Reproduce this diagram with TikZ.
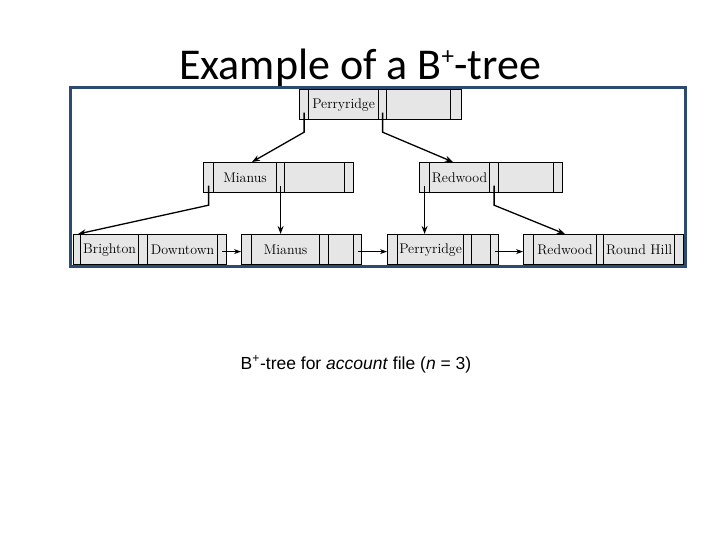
\documentclass[tikz,border=0pt]{standalone}
\usepackage{fontspec}
\newfontfamily\carlito{Carlito}
\newfontfamily\arialf{Liberation Sans}
\usetikzlibrary{arrows.meta}
\definecolor{cellgray}{HTML}{E6E6E6}
\definecolor{framecol}{HTML}{2D4B70}
\tikzset{
  cell/.style={draw=black, fill=cellgray, line width=1.2pt, minimum height=30pt,
    inner sep=0pt, anchor=north west, font=\fontsize{14}{15}\selectfont},
  ptr/.style={line width=1.3pt, -{Stealth[length=8pt,width=6pt]}},
  nxt/.style={line width=0.9pt, -{Stealth[length=7pt,width=5pt]}}
}
\begin{document}
\begin{tikzpicture}[x=1pt,y=-1pt]
\useasboundingbox (0,0) rectangle (720,540);
% title
\node[font=\carlito\fontsize{44}{48}\selectfont, anchor=base, inner sep=0pt] (title) at (360,80) {Example of a B\raisebox{0.75ex}{\fontsize{25}{25}\selectfont +}-tree};
% root
\node[cell, minimum width=9pt]  (rt1) at (299,89) {};
\node[cell, minimum width=70pt] (rt2) at (308,89) {Perryridge};
\node[cell, minimum width=8pt]  (rt3) at (378,89) {};
\node[cell, minimum width=64pt] (rt4) at (386,89) {};
\node[cell, minimum width=11pt] (rt5) at (450,89) {};
% internal Mianus
\node[cell, minimum width=10pt] (mi1) at (203,162) {};
\node[cell, minimum width=63pt] (mi2) at (213,162) {Mianus};
\node[cell, minimum width=8pt]  (mi3) at (276,162) {};
\node[cell, minimum width=60pt] (mi4) at (284,162) {};
\node[cell, minimum width=9pt]  (mi5) at (344,162) {};
% internal Redwood
\node[cell, minimum width=10pt] (rw1) at (419,162) {};
\node[cell, minimum width=60pt] (rw2) at (429,162) {Redwood};
\node[cell, minimum width=9pt]  (rw3) at (489,162) {};
\node[cell, minimum width=55pt] (rw4) at (498,162) {};
\node[cell, minimum width=9pt]  (rw5) at (553,162) {};
% leaf Brighton/Downtown
\node[cell, minimum width=7pt]  (bl1) at (73,234) {};
\node[cell, minimum width=58pt] (bl2) at (80,234) {Brighton};
\node[cell, minimum width=9pt]  (bl3) at (138,234) {};
\node[cell, minimum width=70pt] (bl4) at (147,234) {Downtown};
\node[cell, minimum width=9pt]  (bl5) at (217,234) {};
% leaf Mianus
\node[cell, minimum width=10pt] (ml1) at (241,234) {};
\node[cell, minimum width=68pt] (ml2) at (251,234) {Mianus};
\node[cell, minimum width=9pt]  (ml3) at (319,234) {};
\node[cell, minimum width=25pt] (ml4) at (328,234) {};
\node[cell, minimum width=8pt]  (ml5) at (353,234) {};
% leaf Perryridge
\node[cell, minimum width=10pt] (pl1) at (387,234) {};
\node[cell, minimum width=66pt] (pl2) at (397,234) {Perryridge};
\node[cell, minimum width=8pt]  (pl3) at (463,234) {};
\node[cell, minimum width=19pt] (pl4) at (471,234) {};
\node[cell, minimum width=8pt]  (pl5) at (490,234) {};
% leaf Redwood/Round Hill
\node[cell, minimum width=10pt] (rl1) at (523,234) {};
\node[cell, minimum width=63pt] (rl2) at (533,234) {Redwood};
\node[cell, minimum width=7pt]  (rl3) at (596,234) {};
\node[cell, minimum width=71pt] (rl4) at (603,234) {Round Hill};
\node[cell, minimum width=9pt]  (rl5) at (674,234) {};
% tree pointers
\draw[ptr] ([yshift=-8pt]rt1.center) -- ([yshift=-12pt]rt1.south) -- ([xshift=39pt]mi2.north west);
\draw[ptr] ([yshift=-8pt]rt3.center) -- ([yshift=-12pt]rt3.south) -- ([xshift=24pt]rw2.north west);
\draw[ptr] ([yshift=-8pt]mi1.center) -- ([yshift=-12pt]mi1.south) -- ([xshift=5pt]bl1.north west);
\draw[ptr] ([yshift=-8pt]mi3.center) -- (mi3.center |- ml2.north);
\draw[ptr] ([yshift=-8pt]rw1.center) -- (rw1.center |- pl2.north);
\draw[ptr] ([yshift=-8pt]rw3.center) -- ([yshift=-12pt]rw3.south) -- ([xshift=32pt]rl2.north west);
% leaf next pointers
\draw[nxt] ([yshift=-2pt]bl5.center) -- ([yshift=-2pt]ml1.west);
\draw[nxt] ([yshift=-2pt]ml5.center) -- ([yshift=-2pt]pl1.west);
\draw[nxt] ([yshift=-2pt]pl5.center) -- ([yshift=-2pt]rl1.west);
% frame
\draw[framecol, line width=3pt] (70,88) rectangle (685,266);
% caption
\node[font=\arialf\fontsize{17.5}{20}\selectfont, anchor=base, inner sep=0pt] (cap) at (356,369) {B\textsuperscript{+}-tree for \textit{account} file (\textit{n} = 3)};
\end{tikzpicture}
\end{document}
